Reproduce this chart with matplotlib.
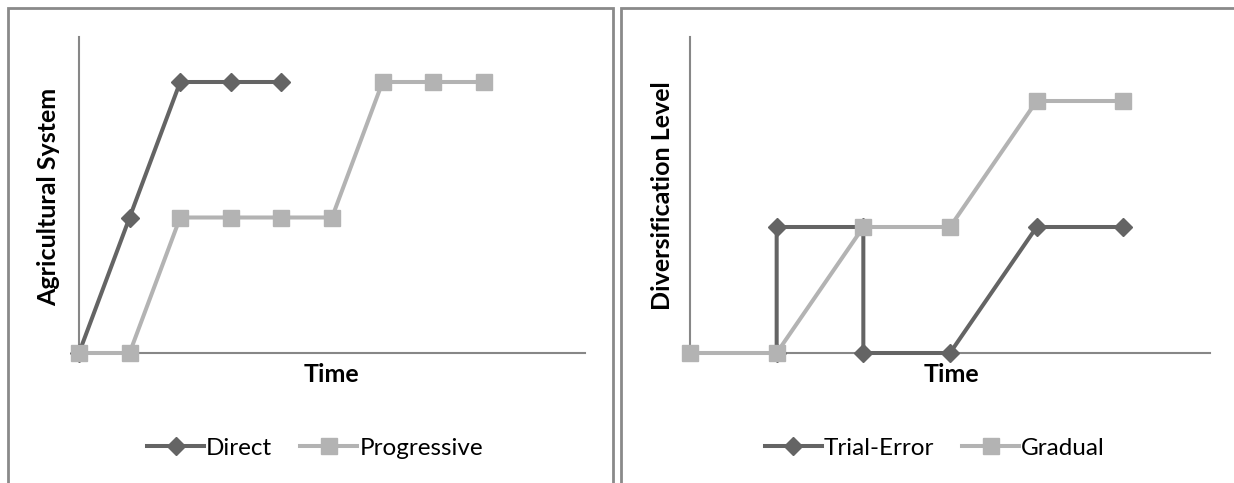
import matplotlib
matplotlib.use("Agg")
import matplotlib.pyplot as plt
from matplotlib.patches import Rectangle

# Data
direct_x = [0, 1, 2, 3, 4]
direct_y = [0, 1, 2, 2, 2]
prog_x = [0, 1, 2, 3, 4, 5, 6, 7, 8]
prog_y = [0, 0, 1, 1, 1, 1, 2, 2, 2]

trial_x = [1, 1, 2, 2, 3, 4, 5]
trial_y = [0, 1, 1, 0, 0, 1, 1]
grad_x = [0, 1, 2, 3, 4, 5]
grad_y = [0, 0, 1, 1, 2, 2]

DARK = "#646464"
LIGHT = "#b3b3b3"
AXC = "#878787"

plt.rcParams['font.family'] = ['Lato', 'DejaVu Sans']

W, H = 1234, 483
fig = plt.figure(figsize=(W / 100, H / 100), dpi=100)

def fx(px):
    return px / W

def fy(py):
    return 1 - py / H

# panel borders
fig.add_artist(Rectangle((fx(8), fy(495)), fx(613) - fx(8), fy(8) - fy(495),
                         transform=fig.transFigure, fill=False, ec="#8a8a8a", lw=2))
fig.add_artist(Rectangle((fx(621), fy(495)), fx(1240) - fx(621), fy(8) - fy(495),
                         transform=fig.transFigure, fill=False, ec="#8a8a8a", lw=2))

def make_axes(x0, x1, y_top, y_axis):
    ax = fig.add_axes([fx(x0), fy(y_axis), fx(x1) - fx(x0), fy(y_top) - fy(y_axis)])
    for s in ["top", "right"]:
        ax.spines[s].set_visible(False)
    for s in ["left", "bottom"]:
        ax.spines[s].set_color(AXC)
        ax.spines[s].set_linewidth(1.5)
    ax.set_xticks([])
    ax.set_yticks([])
    ax.patch.set_visible(False)
    return ax

LFS = 17.5
TFS = 18

# Left chart
ax1 = make_axes(79, 585, 37, 353)
ax1.set_xlim(0, 10)
ax1.set_ylim(0, (353 - 37) / 135.5)
l1, = ax1.plot(direct_x, direct_y, color=DARK, lw=2.9, marker="D", ms=9.5,
               label="Direct", clip_on=False, zorder=3)
l2, = ax1.plot(prog_x, prog_y, color=LIGHT, lw=2.9, marker="s", ms=11.5,
               label="Progressive", clip_on=False, zorder=4)
fig.text(fx(49), fy(197), "Agricultural System", rotation=90, ha="center", va="center",
         fontsize=TFS, fontweight="bold")
fig.text(fx(331), fy(374), "Time", ha="center", va="center", fontsize=TFS, fontweight="bold")
fig.legend(handles=[l1, l2], loc="center", bbox_to_anchor=(fx(315), fy(448)), ncol=2,
           frameon=False, fontsize=LFS, handlelength=2.35, handletextpad=0.08,
           columnspacing=1.15, borderpad=0)

# Right chart
ax2 = make_axes(690, 1210, 37, 353)
ax2.set_xlim(0, 6)
ax2.set_ylim(0, (353 - 37) / 126)
l3, = ax2.plot(trial_x, trial_y, color=DARK, lw=2.9, marker="D", ms=9.5,
               label="Trial-Error", clip_on=False, zorder=3)
l4, = ax2.plot(grad_x, grad_y, color=LIGHT, lw=2.9, marker="s", ms=11.5,
               label="Gradual", clip_on=False, zorder=4)
fig.text(fx(663), fy(196), "Diversification Level", rotation=90, ha="center", va="center",
         fontsize=TFS, fontweight="bold")
fig.text(fx(951), fy(374), "Time", ha="center", va="center", fontsize=TFS, fontweight="bold")
fig.legend(handles=[l3, l4], loc="center", bbox_to_anchor=(fx(935), fy(448)), ncol=2,
           frameon=False, fontsize=LFS, handlelength=2.35, handletextpad=0.08,
           columnspacing=1.15, borderpad=0)

fig.savefig("out.png", dpi=100, facecolor="white")
